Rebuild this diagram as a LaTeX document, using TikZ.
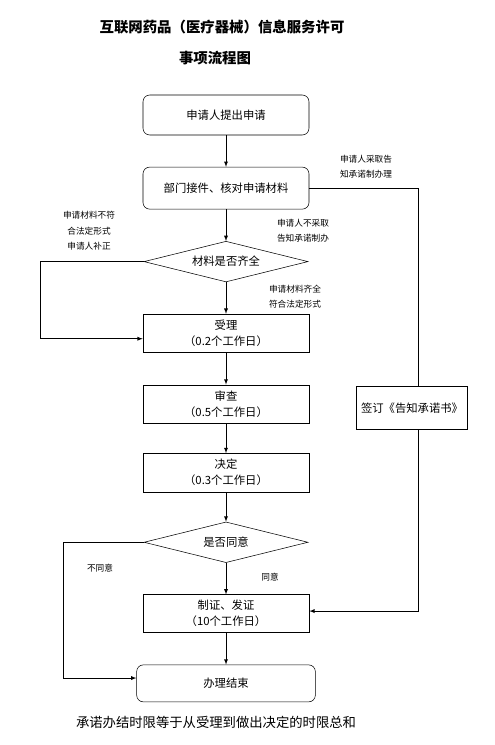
\documentclass[tikz,border=0pt]{standalone}
\usepackage{fontspec}
\setmainfont{Noto Sans CJK SC}
\usetikzlibrary{positioning,shapes.geometric}

\begin{document}
\begin{tikzpicture}[x=0.75pt, y=-0.75pt, >=latex, node distance=23.7pt,
    box/.style={draw, rectangle, minimum width=124.5pt, minimum height=29pt, align=center, font=\fontsize{8.5}{12}\selectfont},
    rbox/.style={box, rounded corners=5pt},
    decide/.style={draw, diamond, aspect=4, inner sep=0pt, minimum width=123pt, minimum height=30.5pt, font=\fontsize{8.5}{12}\selectfont},
    note/.style={align=center, font=\fontsize{6.5}{11.5}\selectfont}]

    \useasboundingbox (0,0) rectangle (494,745);

    \node[font=\bfseries\fontsize{10.8}{13}\selectfont] (title1) at (222,27) {互联网药品（医疗器械）信息服务许可};
    \node[font=\bfseries\fontsize{10.8}{13}\selectfont] (title2) at (215,58) {事项流程图};

    \node[rbox, minimum height=30pt] (apply) at (226,115) {申请人提出申请};
    \node[rbox, below=of apply, minimum height=31.5pt] (check) {部门接件、核对申请材料};
    \node[decide, below=of check] (complete) {材料是否齐全};
    \node[box, below=of complete] (accept) {受理\\（0.2个工作日）};
    \node[box, below=of accept] (review) {审查\\（0.5个工作日）};
    \node[box, below=22pt of review] (decision) {决定\\（0.3个工作日）};
    \node[decide, below=22pt of decision] (agree) {是否同意};
    \node[box, below=of agree, minimum height=28.5pt] (issue) {制证、发证\\（10个工作日）};
    \node[rbox, below=of issue, minimum width=134pt, minimum height=27.75pt] (done) {办理结束};

    \node[box, minimum width=83pt, minimum height=32pt] (sign) at (412,408) {签订《告知承诺书》};

    \node[font=\fontsize{10}{13}\selectfont] (footer) at (216,722) {承诺办结时限等于从受理到做出决定的时限总和};

    \node[note] (promise) at (366,167) {申请人采取告\\知承诺制办理};
    \node[note] (nopromise) at (303,231) {申请人不采取\\告知承诺制办};
    \node[note] (incomplete) at (89,231) {申请材料不符\\合法定形式\\申请人补正};
    \node[note] (ok) at (295,297) {申请材料齐全\\符合法定形式};
    \node[note] (nolabel) at (100,568) {不同意};
    \node[note] (yeslabel) at (270,577) {同意};

    \coordinate (lline) at (40,0);
    \coordinate (lline2) at (63,0);
    \coordinate (rline) at (418,0);

    \draw[->] (apply) -- (check);
    \draw[->] (check) -- (complete);
    \draw[->] (complete) -- (accept);
    \draw[->] (accept) -- (review);
    \draw[->] (review) -- (decision);
    \draw[->] (decision) -- (agree);
    \draw[->] (agree) -- (issue);
    \draw[->] (issue) -- (done);

    \draw[->] (complete.west) -- (complete.west -| lline) |- ([yshift=-4pt]accept.west);
    \draw[->] (agree.west) -- (agree.west -| lline2) |- ([yshift=4pt]done.west);
    \draw (check.east) -| (sign.north -| rline);
    \draw[->] (sign.south -| rline) |- ([yshift=2pt]issue.east);
\end{tikzpicture}
\end{document}
